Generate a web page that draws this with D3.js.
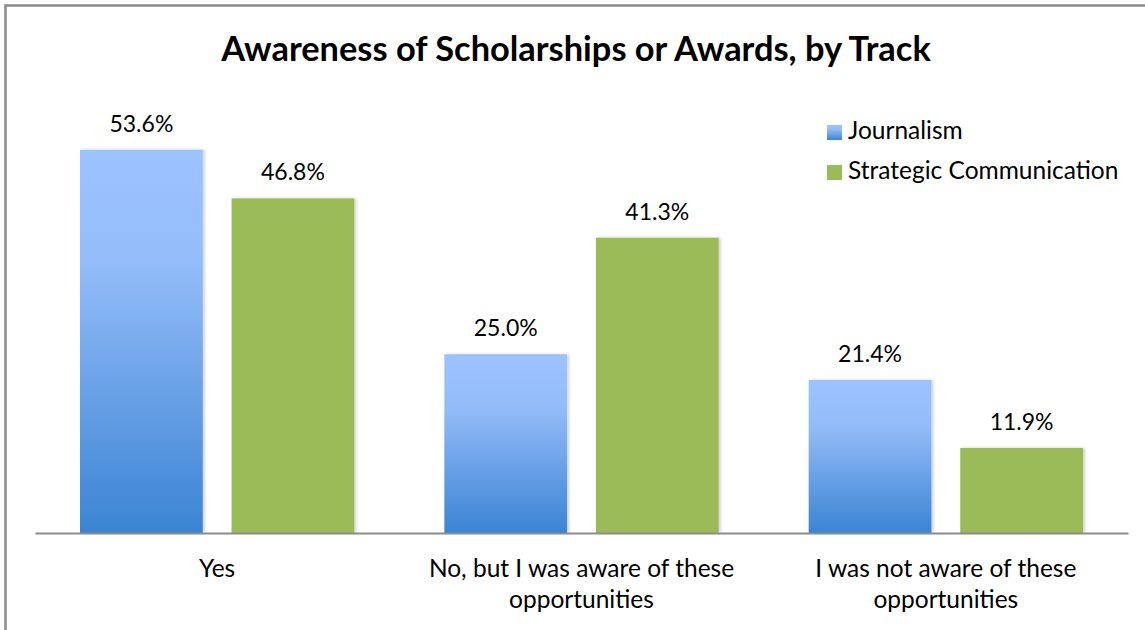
<!DOCTYPE html>
<html>
<head>
<meta charset="utf-8">
<script src="https://cdn.jsdelivr.net/npm/d3@7"></script>
<style>
html,body{margin:0;padding:0;background:#fff;}
svg{display:block;font-family:Lato, "Open Sans", sans-serif;}
</style>
</head>
<body>
<svg id="chart" width="1145" height="630"></svg>
<script>
const title = "Awareness of Scholarships or Awards, by Track";
const categories = [
  ["Yes"],
  ["No, but I was aware of these", "opportunities"],
  ["I was not aware of these", "opportunities"]
];
const seriesNames = ["Journalism", "Strategic Communication"];
const journalism = [53.6, 25.0, 21.4];
const stratcom = [46.8, 41.3, 11.9];

const svg = d3.select("#chart");
const W = 1145, H = 630;
const plot = {left: 35, right: 1128, top: 104, bottom: 533};

const defs = svg.append("defs");
const grad = defs.append("linearGradient").attr("id","blueGrad")
  .attr("x1",0).attr("y1",0).attr("x2",0).attr("y2",1);
grad.append("stop").attr("offset","0%").attr("stop-color","#9dc3ff");
grad.append("stop").attr("offset","30%").attr("stop-color","#93bcf9");
grad.append("stop").attr("offset","100%").attr("stop-color","#3b84d3");
const f = defs.append("filter").attr("id","shadow").attr("x","-10%").attr("y","-10%").attr("width","130%").attr("height","130%");
f.append("feDropShadow").attr("dx",2).attr("dy",0).attr("stdDeviation",1.5).attr("flood-color","#000").attr("flood-opacity",0.18);

// frame
svg.append("path").attr("d", `M5.5,${H} L5.5,5.5 L${W},5.5`)
  .attr("fill","none").attr("stroke","#8c8c8c").attr("stroke-width",2.5);

const keys = categories.map((c,i)=>i);
const x0 = d3.scaleBand().domain(keys).range([plot.left, plot.right]).paddingInner(0).paddingOuter(0);
const x1 = d3.scaleBand().domain([0,1]).range([45, x0.bandwidth()-45]).paddingInner(0.19);
const y = d3.scaleLinear().domain([0,60]).range([plot.bottom, plot.top]);

const data = keys.map(i => ({i, vals:[journalism[i], stratcom[i]]}));
const fills = ["url(#blueGrad)", "#9bbb59"];

const g = svg.selectAll("g.cat").data(data).join("g").attr("class","cat")
  .attr("transform", d=>`translate(${x0(d.i)},0)`);
g.selectAll("rect").data(d=>d.vals.map((v,s)=>({v,s}))).join("rect")
  .attr("x", d=>x1(d.s)).attr("width", x1.bandwidth())
  .attr("y", d=>y(d.v)).attr("height", d=>y(0)-y(d.v))
  .attr("fill", d=>fills[d.s]).attr("filter","url(#shadow)");
g.selectAll("text.val").data(d=>d.vals.map((v,s)=>({v,s}))).join("text")
  .attr("class","val")
  .attr("x", d=>x1(d.s)+x1.bandwidth()/2).attr("y", d=>y(d.v)-18)
  .attr("text-anchor","middle").attr("font-size",23).attr("fill","#000")
  .text(d=>d.v.toFixed(1)+"%");

// axis
const xAxis = d3.axisBottom(x0).tickSize(0).tickFormat("");
const ax = svg.append("g").attr("transform",`translate(0,${plot.bottom})`).call(xAxis);
ax.select(".domain").attr("stroke","#8c8c8c").attr("stroke-width",2);

svg.selectAll("text.cat").data(keys).join("text").attr("class","cat")
  .attr("x", i=>x0(i)+x0.bandwidth()/2).attr("y", 577)
  .attr("text-anchor","middle").attr("font-size",24.5).attr("fill","#000")
  .each(function(i){
    const t = d3.select(this);
    categories[i].forEach((line,k)=>{
      t.append("tspan").attr("x", x0(i)+x0.bandwidth()/2).attr("dy", k===0?0:31).text(line);
    });
  });

// title
svg.append("text").attr("x", 576).attr("y", 61).attr("text-anchor","middle")
  .attr("font-size",34.4).attr("font-weight","bold").attr("fill","#000").text(title);

// legend
const leg = svg.append("g").attr("transform","translate(827,124)");
seriesNames.forEach((n,k)=>{
  leg.append("rect").attr("x",0).attr("y",k*40+1).attr("width",15).attr("height",15).attr("fill",fills[k]);
  leg.append("text").attr("x",21).attr("y",k*40+15).attr("font-size",24.5).attr("fill","#000").text(n);
});
</script>
</body>
</html>
